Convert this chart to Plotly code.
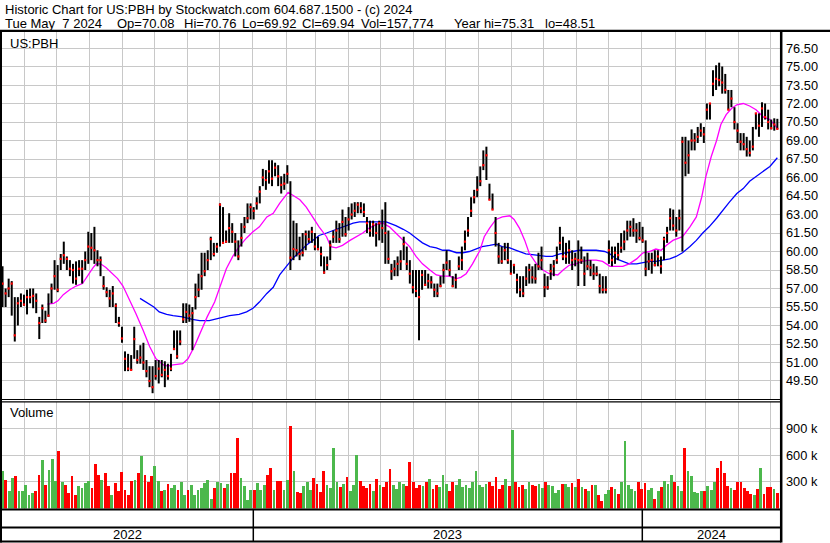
import plotly.graph_objects as go
import pandas as pd

# ---------------- data ----------------
high = [
    58.8, 57.0, 57.8, 57.6, 56.3, 56.3, 56.6, 56.5, 56.9, 57.0, 57.0, 56.6, 54.7, 55.7, 55.2, 56.6, 57.4, 59.3, 58.9, 59.8,
    60.8, 59.6, 59.3, 59.0, 59.2, 59.3, 59.3, 60.0, 61.6, 61.5, 62.0, 60.1, 59.6, 58.0, 57.1, 56.9, 57.2, 55.8, 54.7, 53.9,
    51.9, 51.7, 51.6,
    53.9, 52.0, 52.4, 52.6, 51.2, 50.7, 50.7, 51.2, 51.2, 51.2, 51.1, 50.9, 51.7, 53.6, 53.6, 53.6, 55.8, 55.8, 55.7, 55.5,
    57.4, 58.2, 59.9, 59.9, 60.1, 61.2, 60.7, 60.7, 63.9, 63.6, 61.7, 63.1, 62.3, 61.5, 60.9, 62.3, 62.8, 63.9, 63.9, 63.6,
    64.4, 65.3, 66.7,
    66.6, 67.4, 67.4, 67.2, 67.0, 66.1, 66.3, 67.0, 65.7, 62.5, 62.3, 61.2, 61.5, 61.7, 61.7, 62.0, 61.5, 61.2, 60.4, 59.6,
    59.6, 60.9, 61.7, 62.5, 62.3, 63.4, 62.8, 63.6, 63.9, 64.0, 64.0, 64.0, 63.9, 62.8, 62.5, 62.5, 62.3, 62.5, 63.4, 64.0,
    61.7, 59.0,
    59.3, 59.6, 60.1, 61.2, 60.4, 59.3, 58.5, 58.5, 58.5, 58.5, 58.5, 58.2, 58.0, 57.4, 57.4, 58.0, 59.0, 60.1, 59.3, 58.0,
    58.2, 59.6, 60.4, 61.7, 62.8, 64.4, 65.0, 66.1, 66.9, 68.2, 68.5, 65.5, 64.7, 62.8, 60.7, 60.4, 60.7, 60.7, 59.3, 59.0,
    58.2, 58.0,
    58.0, 58.8, 59.0, 58.8, 59.0, 59.9, 60.4, 58.2, 58.0, 59.0, 59.3, 60.4, 62.0, 61.2, 60.7, 60.9, 60.1, 59.9, 60.9, 60.4,
    59.6, 59.9, 59.3, 59.0, 58.8, 58.2, 58.0, 58.0, 60.9, 60.4, 60.4, 60.7, 61.5, 61.7, 62.5, 62.5, 62.7, 62.3, 62.4, 62.0,
    60.9, 59.9,
    59.9, 60.1, 60.1, 59.6, 61.2, 62.0, 63.5, 63.4, 62.8, 63.4, 69.3, 69.3, 69.0, 69.9, 69.6, 70.1, 70.4, 70.1, 72.0, 72.0,
    74.7, 75.1, 75.31, 75.0, 74.4, 73.1, 73.1, 71.7, 70.4, 69.6, 69.6, 69.3, 69.0, 70.1, 71.2, 71.2, 72.1, 72.0, 71.5, 70.7,
    70.8, 70.76,
]
low = [
    55.5, 55.5, 56.3, 54.8, 52.7, 54.0, 55.5, 55.6, 54.9, 55.8, 55.4, 55.0, 52.9, 54.2, 54.2, 54.7, 55.8, 56.9, 56.7, 58.5,
    59.0, 58.5, 58.0, 57.4, 57.3, 58.0, 57.4, 58.5, 59.0, 59.3, 59.0, 58.8, 58.0, 56.9, 56.3, 55.5, 55.5, 54.2, 53.9, 52.6,
    50.3, 50.3, 50.4,
    51.3, 50.9, 50.9, 50.4, 49.8, 49.0, 48.51, 49.6, 49.3, 49.8, 49.0, 49.6, 50.3, 52.0, 51.3, 52.4, 54.2, 54.2, 54.3, 52.0,
    55.3, 56.3, 56.9, 58.0, 58.5, 59.3, 59.6, 59.9, 60.4, 60.7, 60.7, 60.7, 60.7, 59.6, 59.3, 60.4, 61.5, 62.3, 62.6, 62.6,
    63.4, 63.9, 65.3,
    65.0, 65.5, 65.3, 66.1, 65.3, 64.7, 65.0, 65.5, 58.5, 59.3, 59.6, 59.3, 59.6, 60.1, 60.7, 60.7, 60.1, 60.1, 58.8, 58.2,
    58.5, 59.3, 60.7, 60.7, 60.7, 61.2, 61.2, 61.7, 62.6, 62.8, 63.1, 63.1, 62.8, 61.5, 61.2, 61.2, 60.4, 60.9, 60.7, 59.0,
    59.0, 57.7,
    58.0, 58.0, 58.5, 59.3, 58.5, 57.4, 56.6, 56.3, 52.8, 56.9, 57.2, 57.0, 57.0, 56.3, 56.3, 57.1, 57.4, 58.5, 58.0, 57.1,
    57.0, 58.5, 58.5, 60.1, 61.2, 62.8, 63.9, 64.4, 65.3, 66.6, 65.8, 64.2, 63.4, 60.4, 59.0, 59.0, 59.3, 59.0, 58.2, 58.2,
    56.6, 56.3,
    56.3, 57.2, 57.4, 57.4, 57.4, 58.5, 58.5, 56.3, 56.9, 57.7, 58.0, 59.0, 60.1, 59.3, 59.0, 59.0, 58.5, 58.8, 57.2, 59.0,
    57.2, 58.5, 58.0, 57.7, 58.0, 56.6, 56.6, 56.6, 59.0, 58.8, 59.0, 59.3, 59.9, 60.1, 60.9, 61.2, 61.2, 60.7, 60.9, 60.7,
    58.0, 58.5,
    58.2, 58.8, 58.8, 58.2, 59.3, 60.7, 61.7, 61.7, 61.2, 61.7, 60.0, 66.1, 66.3, 68.2, 68.2, 68.8, 69.3, 68.8, 70.7, 70.7,
    72.6, 73.1, 73.4, 72.8, 72.8, 71.5, 71.7, 69.9, 68.8, 68.2, 68.2, 67.7, 67.7, 68.2, 69.9, 69.3, 70.1, 70.7, 69.9, 69.9,
    69.8, 69.92,
]
close = [
    57.4, 56.6, 57.0, 57.4, 53.2, 55.8, 56.0, 55.7, 56.3, 56.3, 56.4, 56.0, 54.2, 55.4, 54.4, 54.8, 57.0, 58.0, 56.9, 59.4,
    59.7, 59.4, 58.6, 58.5, 57.8, 58.6, 58.6, 59.3, 60.4, 60.3, 60.1, 59.3, 59.3, 57.2, 56.7, 56.2, 56.6, 55.6, 54.2, 52.95,
    51.3, 50.5, 50.4,
    52.9, 51.2, 51.4, 51.0, 50.3, 49.5, 49.0, 49.9, 50.5, 50.0, 50.4, 49.9, 50.5, 52.1, 51.5, 52.7, 54.5, 55.1, 54.8, 55.0,
    56.3, 56.9, 58.0, 58.4, 59.3, 61.0, 59.8, 60.4, 63.8, 60.7, 60.8, 61.9, 61.6, 60.8, 59.6, 61.1, 62.0, 62.7, 63.6, 63.3,
    63.9, 64.85, 66.0,
    65.8, 66.5, 65.9, 66.8, 66.1, 65.4, 65.5, 66.3, 59.5, 60.2, 60.1, 59.8, 59.9, 61.4, 61.0, 61.6, 60.4, 60.2, 59.8, 58.3,
    58.9, 60.5, 61.2, 61.7, 61.0, 62.4, 61.4, 62.6, 63.0, 63.3, 63.8, 63.5, 63.2, 62.3, 61.7, 62.2, 61.5, 62.3, 61.9, 61.5,
    59.4, 58.4,
    58.6, 59.0, 59.2, 60.6, 59.0, 58.2, 57.1, 56.8, 56.3, 58.1, 57.3, 57.6, 57.5, 56.9, 56.6, 57.2, 58.5, 59.1, 58.5, 57.2,
    57.7, 58.8, 59.3, 60.8, 61.7, 63.3, 64.4, 65.0, 65.7, 67.0, 67.8, 64.2, 63.4, 61.5, 59.6, 59.2, 60.1, 59.3, 58.2, 58.9,
    57.7, 56.9,
    56.6, 57.8, 58.5, 57.9, 57.8, 58.8, 59.3, 57.1, 57.1, 58.4, 58.8, 59.3, 60.7, 59.6, 59.6, 60.1, 59.3, 59.4, 59.3, 59.3,
    58.2, 58.8, 58.7, 58.2, 58.2, 57.2, 56.9, 56.9, 60.1, 59.3, 59.9, 59.7, 60.3, 60.8, 61.7, 62.0, 61.7, 61.7, 61.1, 60.9,
    58.6, 59.2,
    59.3, 58.9, 59.6, 58.8, 61.0, 61.5, 62.7, 62.1, 61.7, 62.7, 68.9, 67.2, 67.8, 69.0, 69.0, 69.3, 69.8, 69.5, 71.5, 72.0,
    73.6, 74.0, 73.9, 73.7, 73.1, 71.5, 72.4, 70.5, 69.8, 68.9, 68.7, 68.3, 68.0, 68.5, 71.2, 70.2, 71.6, 70.9, 70.5, 70.0,
    70.3, 69.94,
]
first_day = "2022-05-11"
last_day = "2024-05-07"

# volume in thousands of shares
volume_k = [
    425, 325, 194, 343, 362, 194, 194, 269, 157, 175, 194, 380, 548, 269, 436, 560, 306, 649, 298, 269,
    175, 362, 157, 250, 231, 287, 306, 231, 504, 380, 325, 399, 250, 157, 287, 194, 410, 213, 157, 313,
    325, 399, 586, 380, 298, 362, 474, 313, 194, 213, 276, 231, 269, 213, 298, 157, 213, 269, 157, 213,
    231, 287, 325, 112, 231, 298, 287, 231, 276, 399, 399, 798, 343, 250, 101, 213, 213, 287, 213, 269,
    380, 455, 213, 313, 313, 213, 325, 933, 418, 187, 175,
    250, 300, 210, 340, 280, 190, 420, 260, 230, 680, 300, 240, 280, 350, 200, 260, 600, 310, 250, 230,
    280, 200, 330, 270, 240, 300, 450, 260, 220, 300, 280, 250, 520, 300, 230, 270, 250, 300, 330, 220,
    260, 240, 380, 280, 200, 300, 260, 330, 240, 270, 230, 300, 420, 260, 240, 280, 300, 250, 350, 220,
    270, 330, 250, 880, 300, 240, 260, 220, 300, 270, 250, 280, 230, 300, 260,
    250, 175, 213, 276, 276, 239, 287, 239, 332, 242, 224, 194, 261, 269, 157, 82, 164, 213, 242, 224,
    164, 298, 761, 269, 220, 201, 298, 224, 287, 205, 231, 112, 201, 239, 313, 276, 373, 298, 250, 194,
    679, 425, 362, 187, 175, 194, 194, 250, 213, 298, 455, 537, 399, 250, 231, 213, 298, 298, 231, 194,
    164, 157, 224, 455, 164, 239, 239, 224, 175,
]

ma_fast_dates = [
    "2022-06-22", "2022-06-28", "2022-07-02", "2022-07-07", "2022-07-13", "2022-07-19", "2022-07-25", "2022-07-30",
    "2022-08-04", "2022-08-07", "2022-08-11", "2022-08-16", "2022-08-22", "2022-08-27", "2022-09-01", "2022-09-06",
    "2022-09-13", "2022-09-20", "2022-09-26", "2022-10-02", "2022-10-09", "2022-10-13", "2022-10-18", "2022-10-27",
    "2022-11-01", "2022-11-07", "2022-11-13", "2022-11-19", "2022-11-26", "2022-12-02", "2022-12-07", "2022-12-13",
    "2022-12-19", "2022-12-26", "2023-01-01", "2023-01-07", "2023-01-14", "2023-01-20", "2023-01-26", "2023-02-03",
    "2023-02-07", "2023-02-14", "2023-02-20", "2023-02-26", "2023-03-04", "2023-03-11", "2023-03-15", "2023-03-20",
    "2023-03-26", "2023-04-02", "2023-04-08", "2023-04-14", "2023-04-20", "2023-04-27", "2023-05-03", "2023-05-09",
    "2023-05-15", "2023-05-22", "2023-05-28", "2023-06-03", "2023-06-09", "2023-06-16", "2023-06-22", "2023-06-28",
    "2023-07-04", "2023-07-11", "2023-07-15", "2023-07-20", "2023-07-26", "2023-08-02", "2023-08-06", "2023-08-11",
    "2023-08-17", "2023-08-23", "2023-08-30", "2023-09-03", "2023-09-08", "2023-09-13", "2023-09-17", "2023-09-24",
    "2023-09-30", "2023-10-06", "2023-10-14", "2023-10-19", "2023-10-25", "2023-10-31", "2023-11-06", "2023-11-13",
    "2023-11-19", "2023-11-25", "2023-12-02", "2023-12-08", "2023-12-14", "2023-12-20", "2023-12-27", "2024-01-02",
    "2024-01-08", "2024-01-14", "2024-01-19", "2024-01-24", "2024-01-30", "2024-02-05", "2024-02-08", "2024-02-15",
    "2024-02-21", "2024-02-26", "2024-03-01", "2024-03-06", "2024-03-11", "2024-03-15", "2024-03-20", "2024-03-25",
    "2024-03-30", "2024-04-05", "2024-04-11", "2024-04-17", "2024-04-24", "2024-04-30", "2024-05-06", "2024-05-07",
]
ma_fast = [
    55.74, 55.8, 56.0, 56.5, 56.9, 57.2, 57.4, 58.1, 58.7, 59.0, 59.0, 58.7, 58.2, 57.8, 57.2, 56.3,
    55.0, 53.6, 52.3, 51.3, 50.8, 50.7, 50.8, 50.9, 51.3, 52.3, 53.5, 54.7, 55.9, 57.4, 58.6, 59.6,
    60.4, 61.1, 61.6, 62.0, 62.8, 63.1, 63.9, 64.8, 64.6, 64.2, 63.6, 62.8, 62.0, 61.2, 60.4, 60.3,
    60.5, 60.9, 61.2, 61.5, 61.9, 62.2, 62.3, 62.0, 61.5, 60.9, 60.4, 59.6, 59.0, 58.5, 58.1, 58.0,
    58.0, 57.8, 57.9, 58.2, 59.0, 60.1, 61.2, 61.9, 62.6, 62.8, 62.9, 62.6, 61.9, 60.9, 59.9, 59.0,
    58.5, 58.2, 58.1, 58.5, 58.9, 59.0, 59.2, 59.3, 59.3, 59.2, 58.8, 58.8, 58.8, 59.0, 59.4, 59.9,
    60.0, 60.2, 60.1, 60.5, 60.9, 61.1, 61.2, 62.0, 62.8, 64.4, 66.1, 67.7, 69.0, 70.3, 71.1, 71.6,
    71.9, 72.0, 71.8, 71.5, 70.9, 70.7, 70.1, 69.9,
]
ma_slow_dates = [
    "2022-09-17", "2022-09-23", "2022-09-30", "2022-10-05", "2022-10-12", "2022-10-18", "2022-10-27", "2022-11-05",
    "2022-11-12", "2022-11-21", "2022-12-01", "2022-12-10", "2022-12-19", "2022-12-26", "2023-01-01", "2023-01-07",
    "2023-01-14", "2023-01-20", "2023-01-26", "2023-02-01", "2023-02-07", "2023-02-14", "2023-02-20", "2023-02-26",
    "2023-03-04", "2023-03-11", "2023-03-17", "2023-03-23", "2023-03-29", "2023-04-05", "2023-04-11", "2023-04-17",
    "2023-04-23", "2023-04-30", "2023-05-06", "2023-05-09", "2023-05-15", "2023-05-22", "2023-05-28", "2023-06-03",
    "2023-06-09", "2023-06-16", "2023-06-22", "2023-06-28", "2023-07-04", "2023-07-11", "2023-07-17", "2023-07-23",
    "2023-07-29", "2023-08-04", "2023-08-11", "2023-08-17", "2023-08-23", "2023-08-30", "2023-09-05", "2023-09-08",
    "2023-09-14", "2023-09-24", "2023-10-03", "2023-10-09", "2023-10-16", "2023-10-22", "2023-10-28", "2023-11-03",
    "2023-11-10", "2023-11-19", "2023-11-27", "2023-12-02", "2023-12-08", "2023-12-14", "2023-12-20", "2023-12-27",
    "2024-01-02", "2024-01-08", "2024-01-14", "2024-01-20", "2024-01-27", "2024-02-02", "2024-02-08", "2024-02-15",
    "2024-02-21", "2024-02-27", "2024-03-04", "2024-03-11", "2024-03-17", "2024-03-23", "2024-03-30", "2024-04-05",
    "2024-04-11", "2024-04-17", "2024-04-24", "2024-04-30", "2024-05-07",
]
ma_slow = [
    56.2, 55.9, 55.5, 55.1, 54.9, 54.8, 54.7, 54.5, 54.4, 54.4, 54.6, 54.8, 54.9, 55.1, 55.4, 55.9,
    56.6, 57.1, 58.1, 58.8, 59.4, 60.0, 60.5, 60.9, 61.3, 61.5, 61.7, 61.9, 62.1, 62.3, 62.4, 62.4,
    62.4, 62.4, 62.4, 62.3, 62.1, 61.8, 61.5, 61.1, 60.7, 60.4, 60.3, 60.1, 60.1, 59.9, 59.9, 60.0,
    60.2, 60.4, 60.5, 60.6, 60.4, 60.3, 60.1, 60.0, 59.8, 59.7, 59.6, 59.6, 59.8, 59.9, 60.0, 60.1,
    60.1, 60.1, 60.0, 59.8, 59.4, 59.2, 59.0, 59.0, 59.1, 59.2, 59.2, 59.3, 59.4, 59.6, 59.9, 60.4,
    60.9, 61.5, 62.0, 62.7, 63.4, 64.0, 64.7, 65.1, 65.7, 66.1, 66.5, 66.9, 67.6,
]

price_ticks = [49.5, 51.0, 52.5, 54.0, 55.5, 57.0, 58.5, 60.0, 61.5, 63.0, 64.5, 66.0, 67.5, 69.0,
               70.5, 72.0, 73.5, 75.0, 76.5]
price_tick_text = ["49.50", "51.00", "52.50", "54.00", "55.50", "57.00", "58.50", "60.00", "61.50", "63.00",
                   "64.50", "66.00", "67.50", "69.00", "70.50", "72.00", "73.50", "75.00", "76.50"]
vol_ticks_k = [300, 600, 900]
vol_tick_text = ["300 k", "600 k", "900 k"]
year_labels = ["2022", "2023", "2024"]

header1 = "Historic Chart for US:PBH by Stockwatch.com 604.687.1500 - (c) 2024"
header2_fields = ["Tue May  7 2024", "Op=70.08", "Hi=70.76", "Lo=69.92", "Cl=69.94", "Vol=157,774",
                  "Year hi=75.31", "lo=48.51"]
symbol = "US:PBH"

# ---------------- layout helpers ----------------
W, H = 830, 543
FONT = "Liberation Sans, Arial, sans-serif"
GRID = "#c8c8c8"
TXT = 13


def fx(px):
    return px / W


def fy(px):
    return 1 - px / H


n = len(close)
bar_dates = pd.date_range(first_day, last_day, periods=n)
vol_dates = pd.date_range(first_day, last_day, periods=len(volume_k))

seg_x, seg_y = [], []
for d, lo_, hi_ in zip(bar_dates, low, high):
    seg_x += [d, d, None]
    seg_y += [lo_, hi_, None]

vol_colors = []
for i in range(len(volume_k)):
    j = round(i * (n - 1) / (len(volume_k) - 1))
    up = j == 0 or close[j] >= close[j - 1]
    vol_colors.append("#4cb84c" if up else "#ff0000")

fig = go.Figure()
fig.add_trace(go.Scatter(x=ma_slow_dates, y=ma_slow, mode="lines",
                         line=dict(color="#0000ff", width=1.3), xaxis="x", yaxis="y"))
fig.add_trace(go.Scatter(x=ma_fast_dates, y=ma_fast, mode="lines",
                         line=dict(color="#ff00ff", width=1.3), xaxis="x", yaxis="y"))
fig.add_trace(go.Scatter(x=seg_x, y=seg_y, mode="lines", line=dict(color="#000000", width=2.0),
                         xaxis="x", yaxis="y", connectgaps=False))
fig.add_trace(go.Scatter(x=bar_dates, y=close, mode="markers",
                         marker=dict(symbol="square", size=2.2, color="#ff0000", line=dict(width=0)),
                         xaxis="x", yaxis="y"))
fig.add_trace(go.Bar(x=vol_dates, y=[v * 1000 for v in volume_k], marker=dict(color=vol_colors, line=dict(width=0)),
                     width=2.6 * 86400000, xaxis="x2", yaxis="y2"))

xrange = ["2022-05-10 12:00", "2024-05-09 12:00"]
xcommon = dict(type="date", range=xrange, domain=[fx(2), fx(780)], showgrid=True, gridcolor=GRID, gridwidth=1,
               dtick="M1", tick0="2022-01-01", showticklabels=False, ticks="", showline=False, zeroline=False)

fig.update_layout(
    width=W, height=H, margin=dict(l=0, r=0, t=0, b=0),
    paper_bgcolor="white", plot_bgcolor="white", showlegend=False, hovermode=False,
    font=dict(family=FONT, size=TXT, color="#000000"),
    xaxis=dict(anchor="y", **xcommon),
    xaxis2=dict(anchor="y2", matches="x", **xcommon),
    yaxis=dict(domain=[fy(399), fy(31)], range=[48.04, 77.88], side="right", anchor="x",
               tickvals=price_ticks, ticktext=price_tick_text, showgrid=True, gridcolor=GRID, gridwidth=1,
               ticks="", ticklabelstandoff=5, showline=False, zeroline=False,
               tickfont=dict(family=FONT, size=12.8, color="#000000")),
    yaxis2=dict(domain=[fy(508.5), fy(402)], range=[0, 1200000], side="right", anchor="x2",
                tickvals=[v * 1000 for v in vol_ticks_k], ticktext=vol_tick_text, showgrid=True, gridcolor=GRID,
                gridwidth=1, ticks="", ticklabelstandoff=5, showline=False, zeroline=False,
                tickfont=dict(family=FONT, size=12.8, color="#000000")),
    bargap=0,
)


def hline(y, x0, x1, w):
    fig.add_shape(type="line", xref="paper", yref="paper", x0=fx(x0), x1=fx(x1), y0=fy(y), y1=fy(y),
                  line=dict(color="#000000", width=w))


def vline(x, y0, y1, w):
    fig.add_shape(type="line", xref="paper", yref="paper", x0=fx(x), x1=fx(x), y0=fy(y0), y1=fy(y1),
                  line=dict(color="#000000", width=w))


hline(30.8, 0, 830, 2.2)
hline(399.5, 0, 781, 1.2)
hline(401.8, 0, 781, 1.2)
hline(509.6, 0, 781, 2)
hline(527.4, 0, 781, 2)
hline(541.6, 0, 781, 2)
vline(1.0, 30, 542.5, 2)
vline(781.2, 30, 542.5, 2.5)
vline(253.3, 509.6, 541.6, 1.5)
vline(642.3, 509.6, 541.6, 1.5)

nb = "\u00a0"
ann = [dict(x=fx(3), y=fy(9.5), text=header1.replace(" ", nb))]
for txt, px in zip(header2_fields, [3, 115, 182, 240, 300, 359, 452, 543]):
    ann.append(dict(x=fx(px), y=fy(23.5), text=txt.replace(" ", nb)))
ann += [dict(x=fx(8), y=fy(43), text=symbol), dict(x=fx(8), y=fy(413), text="Volume")]
for a in ann:
    fig.add_annotation(xref="paper", yref="paper", xanchor="left", yanchor="middle", showarrow=False,
                       font=dict(family=FONT, size=TXT, color="#000000"), **a)
for lbl, cx in zip(year_labels, [127.6, 447.8, 711.7]):
    fig.add_annotation(xref="paper", yref="paper", x=fx(cx), y=fy(534.5), xanchor="center", yanchor="middle",
                       showarrow=False, text=lbl, font=dict(family=FONT, size=TXT, color="#000000"))

fig.write_html("out.html", config={"displayModeBar": False, "staticPlot": True},
               post_script="document.body.style.margin='0px';document.body.style.overflow='hidden';")
